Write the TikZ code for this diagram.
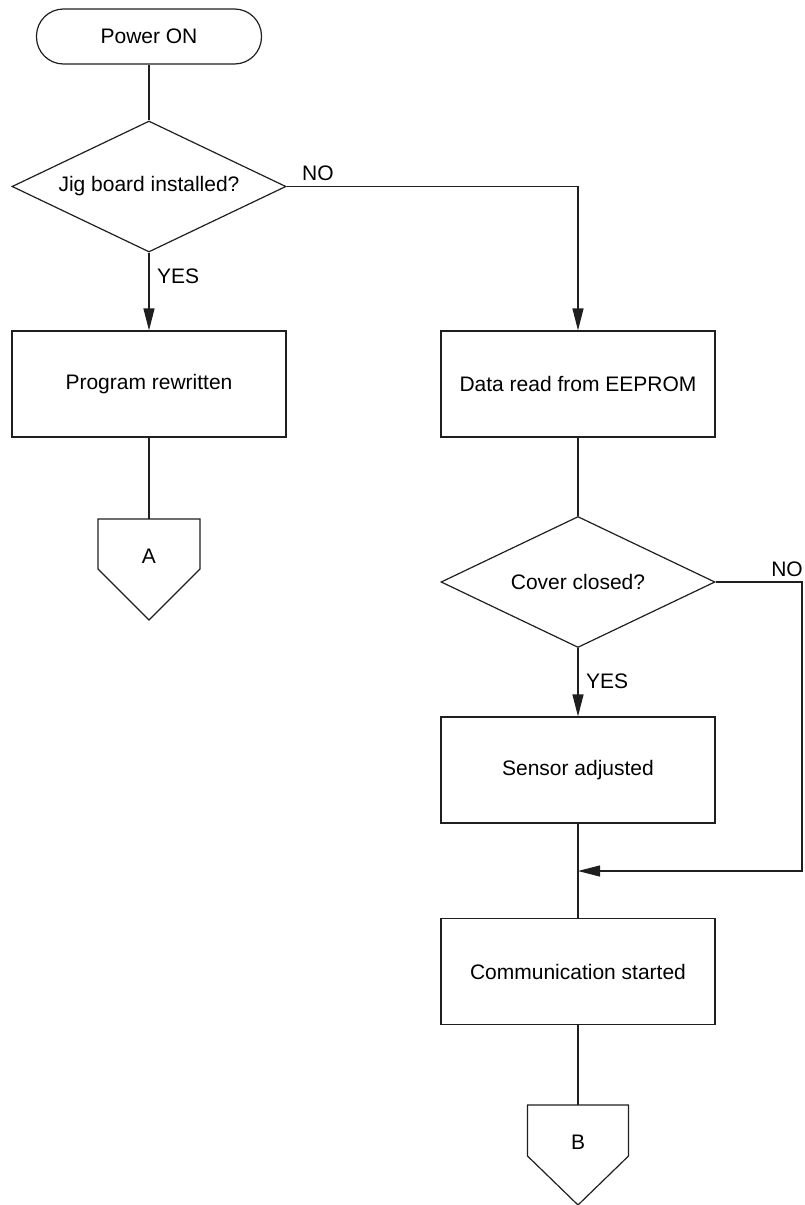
\documentclass[tikz,border=0pt]{standalone}
\usepackage{fontspec}
\setmainfont{Liberation Sans}
\usetikzlibrary{shapes.geometric,arrows.meta,calc}
\begin{document}
\begin{tikzpicture}[x=1pt,y=-1pt,
  every node/.style={font=\fontsize{21}{25}\selectfont, text=black},
  line/.style={draw=black!88, line width=1.2pt},
  arrowline/.style={line, -{Triangle[length=22pt,width=11pt]}},
  terminal/.style={line, rectangle, rounded corners=27pt, minimum width=225pt, minimum height=55pt, inner sep=0pt},
  decision/.style={line, diamond, aspect=2.1, minimum width=274pt, minimum height=131pt, inner sep=0pt},
  process/.style={line, rectangle, minimum width=274pt, minimum height=106pt, inner sep=0pt},
  branchtxt/.style={inner sep=0pt},
  conntxt/.style={inner sep=0pt}
]
\useasboundingbox (0,0) rectangle (804,1205);

% main column
\node[terminal] (T)  at (149,36.5) {Power ON};
\node[decision] (D1) at (149,186.5) {Jig board installed?};
\node[process]  (P1) at (149,384) {Program rewritten};
\coordinate (Atop) at (149,519);
\node[conntxt]  (A)  at (149,556) {A};

% right column
\node[process]  (P2) at (578,384) {Data read from EEPROM};
\node[decision] (D2) at (578,582) {Cover closed?};
\node[process]  (P3) at (578,770) {Sensor adjusted};
\node[process]  (P4) at (578,971.5) {Communication started};
\coordinate (Btop) at (578,1105);
\node[conntxt]  (B)  at (578,1142) {B};
\coordinate (loopc) at (802,871);

% off-page connectors
\draw[line] (Atop) ++(-51,0) -- ++(102,0) -- ++(0,50) -- ++(-51,51) -- ++(-51,-51) -- cycle;
\draw[line] (Btop) ++(-50.5,0) -- ++(101,0) -- ++(0,51) -- ++(-50.5,49) -- ++(-50.5,-49) -- cycle;

% connectors
\draw[line] (T) -- (D1);
\draw[arrowline] (D1) -- (P1);
\draw[arrowline] (D1.east) -| (P2.north);
\draw[line] (P1) -- (Atop);
\draw[line] (P2) -- (D2);
\draw[arrowline] (D2) -- (P3);
\draw[line] (P3) -- (P4);
\draw[arrowline] (D2.east) -| (loopc) -- (loopc -| P3.south);
\draw[line] (P4) -- (Btop);

% branch labels
\node[branchtxt, anchor=base west] (n1) at (302,180) {NO};
\node[branchtxt, anchor=base west] (y1) at (157,283) {YES};
\node[branchtxt, anchor=base east] (n2) at (803,576) {NO};
\node[branchtxt, anchor=base west] (y2) at (586,688) {YES};
\end{tikzpicture}
\end{document}
